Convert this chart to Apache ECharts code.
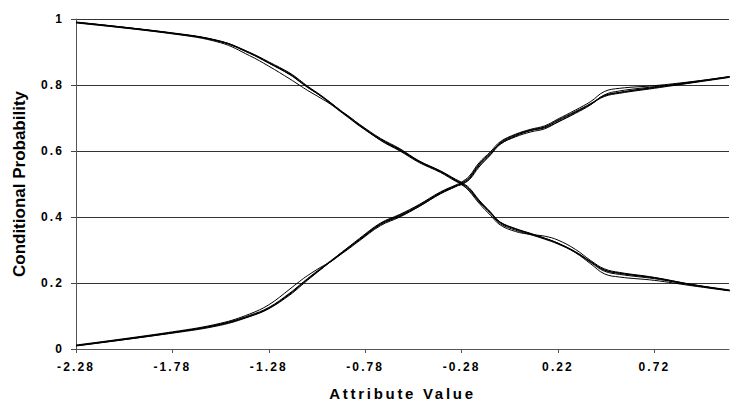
<!DOCTYPE html>
<html>
<head>
<meta charset="utf-8">
<script src="https://cdn.jsdelivr.net/npm/echarts@6/dist/echarts.min.js"></script>
<style>
  html, body { margin: 0; padding: 0; background: #fff; }
  #chart { width: 730px; height: 406px; }
  #chart text[style*="12px"] { letter-spacing: 2.1px; }
  #chart text[style*="15px"] { letter-spacing: 2.7px; }
</style>
</head>
<body>
<div id="chart"></div>
<script>
// Attribute values (x)
var xValues = [-2.28,-1.78,-1.53,-1.38,-1.28,-1.17,-1.12,-1.08,-1.01,-0.96,-0.91,-0.86,-0.81,-0.70,-0.60,-0.50,-0.39,-0.31,-0.28,-0.24,-0.19,-0.13,-0.08,0.00,0.08,0.15,0.22,0.31,0.39,0.46,0.54,0.72,0.91,1.11];

// Increasing conditional probability curves
var incA = [0.010,0.050,0.075,0.100,0.124,0.168,0.192,0.211,0.243,0.265,0.287,0.309,0.331,0.378,0.404,0.434,0.473,0.494,0.502,0.518,0.558,0.593,0.623,0.647,0.663,0.672,0.692,0.718,0.742,0.767,0.777,0.792,0.807,0.825];
var incB = [0.012,0.052,0.078,0.106,0.134,0.182,0.205,0.222,0.248,0.264,0.285,0.306,0.328,0.374,0.400,0.432,0.470,0.492,0.500,0.513,0.551,0.588,0.620,0.645,0.662,0.670,0.688,0.714,0.740,0.770,0.782,0.795,0.809,0.826];
var incC = [0.010,0.048,0.072,0.098,0.122,0.164,0.188,0.208,0.241,0.265,0.289,0.312,0.335,0.382,0.408,0.438,0.476,0.497,0.506,0.524,0.564,0.598,0.628,0.651,0.666,0.676,0.697,0.724,0.750,0.780,0.790,0.798,0.810,0.825];
var incD = [0.011,0.050,0.074,0.099,0.123,0.167,0.191,0.210,0.242,0.264,0.286,0.308,0.330,0.377,0.402,0.432,0.471,0.493,0.503,0.520,0.560,0.594,0.621,0.643,0.658,0.667,0.688,0.716,0.742,0.765,0.775,0.790,0.806,0.823];
var incE = [0.009,0.049,0.076,0.102,0.126,0.170,0.194,0.213,0.245,0.267,0.289,0.311,0.333,0.380,0.406,0.436,0.474,0.495,0.498,0.515,0.555,0.590,0.625,0.649,0.664,0.673,0.694,0.720,0.744,0.768,0.778,0.793,0.808,0.824];

// Decreasing conditional probability curves
var decA = [0.990,0.957,0.932,0.897,0.867,0.832,0.811,0.794,0.767,0.745,0.722,0.700,0.678,0.635,0.605,0.569,0.539,0.512,0.503,0.483,0.449,0.413,0.383,0.363,0.348,0.335,0.320,0.294,0.264,0.239,0.229,0.215,0.195,0.178];
var decB = [0.988,0.955,0.928,0.889,0.857,0.818,0.799,0.784,0.760,0.742,0.722,0.702,0.681,0.638,0.607,0.570,0.540,0.514,0.505,0.488,0.452,0.415,0.385,0.365,0.350,0.336,0.320,0.292,0.258,0.228,0.218,0.208,0.192,0.176];
var decC = [0.990,0.958,0.933,0.899,0.870,0.836,0.815,0.797,0.769,0.747,0.724,0.703,0.680,0.632,0.600,0.565,0.535,0.508,0.500,0.478,0.442,0.405,0.376,0.356,0.347,0.342,0.330,0.302,0.268,0.243,0.232,0.217,0.196,0.177];
var decD = [0.991,0.957,0.931,0.896,0.866,0.831,0.810,0.793,0.767,0.746,0.723,0.700,0.677,0.636,0.603,0.567,0.537,0.510,0.498,0.480,0.446,0.410,0.380,0.360,0.346,0.333,0.318,0.293,0.262,0.236,0.226,0.213,0.194,0.177];
var decE = [0.989,0.956,0.932,0.898,0.868,0.834,0.813,0.795,0.766,0.743,0.720,0.698,0.676,0.633,0.602,0.568,0.538,0.511,0.502,0.485,0.450,0.414,0.384,0.364,0.349,0.336,0.321,0.295,0.265,0.240,0.230,0.216,0.196,0.179];

var xMin = -2.28;      // first tick label
var xMax = 1.107;      // right edge of the plot
var xStep = 0.5;       // tick label step
var yTicks = [0, 0.2, 0.4, 0.6, 0.8, 1];

var allSeries = [incA, incB, incC, incD, incE, decA, decB, decC, decD, decE];

function toPoints(ys) {
  return xValues.map(function (x, i) { return [+(x - xMin).toFixed(4), ys[i]]; });
}

var chart = echarts.init(document.getElementById('chart'), null, { renderer: 'svg' });
var fontFam = '"Liberation Sans", Arial, sans-serif';

chart.setOption({
  animation: false,
  backgroundColor: '#fff',
  grid: { left: 76, right: 1, top: 19, bottom: 53, containLabel: false },
  xAxis: {
    type: 'value',
    min: 0,
    max: +(xMax - xMin).toFixed(4),
    interval: xStep,
    name: 'Attribute Value',
    nameLocation: 'middle',
    nameGap: 37,
    nameTextStyle: { fontFamily: fontFam, fontWeight: 'bold', fontSize: 15, color: '#000' },
    axisLine: { show: true, lineStyle: { color: '#555', width: 1 } },
    axisTick: { show: true, inside: false, length: 4, lineStyle: { color: '#555' } },
    axisLabel: {
      showMaxLabel: false,
      margin: 12,
      fontFamily: fontFam, fontWeight: 'bold', fontSize: 12, color: '#000',
      formatter: function (v) { return (v + xMin).toFixed(2); }
    },
    splitLine: { show: false }
  },
  yAxis: {
    type: 'value',
    min: yTicks[0],
    max: yTicks[yTicks.length - 1],
    interval: yTicks[1] - yTicks[0],
    name: 'Conditional Probability',
    nameLocation: 'middle',
    nameGap: 48,
    nameTextStyle: { fontFamily: fontFam, fontWeight: 'bold', fontSize: 17, color: '#000' },
    axisLine: { show: true, lineStyle: { color: '#555', width: 1 } },
    axisTick: { show: true, inside: false, length: 5, lineStyle: { color: '#444' } },
    axisLabel: {
      margin: 12,
      fontFamily: fontFam, fontWeight: 'bold', fontSize: 12, color: '#000',
      formatter: function (v) { return (v === 0 || v === 1) ? String(v) : v.toFixed(1); }
    },
    splitLine: { show: true, lineStyle: { color: '#333', width: 1 } }
  },
  series: allSeries.map(function (ys) {
    return {
      type: 'line',
      data: toPoints(ys),
      smooth: 0.4,
      showSymbol: false,
      symbol: 'none',
      lineStyle: { color: '#000', width: 1 },
      silent: true
    };
  })
});
</script>
</body>
</html>
